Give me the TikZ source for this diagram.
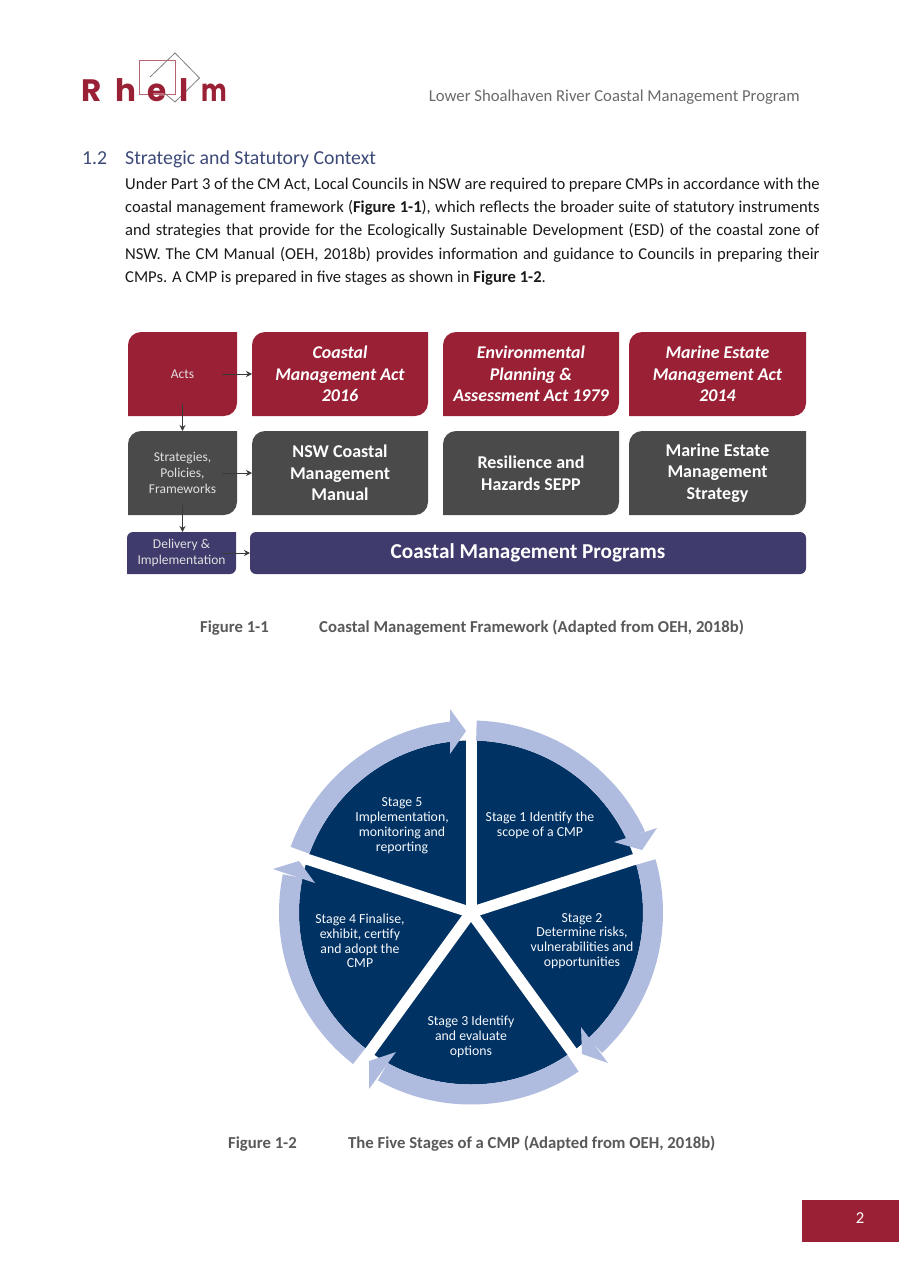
\documentclass[tikz,border=0pt]{standalone}
\usepackage{fontspec}
\setmainfont{Carlito}
\newfontfamily\logofont{Poppins}
\usetikzlibrary{arrows.meta}
\definecolor{rred}{HTML}{9A2135}
\definecolor{rgrey}{HTML}{4A4A4A}
\definecolor{rpurple}{HTML}{3F3B6C}
\definecolor{rnavy}{HTML}{003263}
\definecolor{rring}{HTML}{B0BCDF}
\definecolor{rtext}{HTML}{1A1A1A}
\definecolor{rhead}{HTML}{595959}
\definecolor{rarrow}{HTML}{3A3A3A}
\definecolor{rsec}{HTML}{3D4A78}
\newcommand{\dbox}[7]{%
  \fill[#6] (#2,#3+#7) .. controls (#2,#3+0.45*#7) and (#2+0.45*#7,#3) .. (#2+#7,#3) -- (#4,#3) -- (#4,#5-#7) .. controls (#4,#5-0.45*#7) and (#4-0.45*#7,#5) .. (#4-#7,#5) -- (#2,#5) -- cycle;
  \node[boxnode,minimum width=#4-#2,minimum height=#5-#3] (#1) at ({(#2+#4)/2},{(#3+#5)/2}) {};}
\newcommand{\bodyline}[3]{\node[bodytext] (#1) at (125,#2) {\makebox[694.5pt][s]{#3}};}
\newcommand{\ringseg}[2]{%
  \fill[rring] plot[domain=#1:#2,samples=50] ({471+192*cos(\x)},{912.5-192*sin(\x)}) -- plot[domain=#2:#1,samples=50] ({471+172*cos(\x)},{912.5-172*sin(\x)}) -- cycle;}
\tikzset{
  boxnode/.style={inner sep=0pt,outer sep=0pt,rectangle},
  bodytext/.style={anchor=base west,inner sep=0pt,font=\fontsize{16.6}{18}\selectfont,text=rtext},
  smalllab/.style={align=center,text=white!88!black,font=\fontsize{13.5}{16}\selectfont,inner sep=0pt},
  biglab/.style={align=center,text=white,font=\bfseries\fontsize{18}{21.6}\selectfont,inner sep=0pt},
  itlab/.style={align=center,text=white,font=\bfseries\itshape\fontsize{17.9}{21.6}\selectfont,inner sep=0pt},
  flow/.style={rarrow,line width=1pt,-{Stealth[length=6pt,width=6pt]}},
  caption/.style={anchor=base west,inner sep=0pt,text=rhead,font=\bfseries\fontsize{16.7}{18}\selectfont},
  stage/.style={align=center,text=white!90!rring,font=\fontsize{13.8}{14.8}\selectfont,inner sep=0pt},
  cutray/.style={white,line width=11pt},
  logoletter/.style={anchor=base west,inner sep=0pt,text=rred,font=\logofont\bfseries\fontsize{31}{31}\selectfont},
}
\begin{document}
\begin{tikzpicture}[x=1pt,y=-1pt]
\useasboundingbox (0,0) rectangle (899,1273);
\fill[white] (0,0) rectangle (899,1273);
% logo
\draw[rred!70!white,line width=0.8pt] (139.5,60) rectangle (175,94);
\draw[gray,line width=0.8pt] (150,77) -- (175,53) -- (199.5,78) -- (175,102) -- (163,92);
\node[logoletter] (logoR) at (81.5,102) {R};
\node[logoletter] (logoH) at (115,102) {h};
\node[logoletter] (logoE) at (147.5,102) {e};
\node[logoletter] (logoL) at (179,102) {l};
\node[logoletter] (logoM) at (201,102) {\scalebox{0.78}[1]{m}};
% header
\node[anchor=base east,inner sep=0pt,text=rhead!90!white,font=\fontsize{16.7}{18}\selectfont] (header) at (800,101.5) {Lower Shoalhaven River Coastal Management Program};
\node[anchor=base west,inner sep=0pt,text=rsec,font=\fontsize{19.8}{22}\selectfont] (secnum) at (82,165) {1.2};
\node[anchor=base west,inner sep=0pt,text=rsec,font=\fontsize{19.8}{22}\selectfont] (sectitle) at (125,165) {Strategic and Statutory Context};
% body
\bodyline{l1}{189.5}{Under Part 3 of the CM Act, Local Councils in NSW are required to prepare CMPs in accordance with the}
\bodyline{l2}{212.5}{coastal management framework (\textbf{Figure 1-1}), which reflects the broader suite of statutory instruments}
\bodyline{l3}{236}{and strategies that provide for the Ecologically Sustainable Development (ESD) of the coastal zone of}
\bodyline{l4}{259.5}{NSW. The CM Manual (OEH, 2018b) provides information and guidance to Councils in preparing their}
\node[bodytext] (l5) at (125,282.5) {CMPs. A CMP is prepared in five stages as shown in \textbf{Figure 1-2}.};
% framework
\dbox{acts}{128}{332}{237}{416}{rred}{13}
\dbox{cma}{252}{332}{428}{416}{rred}{13}
\dbox{epa}{443}{332}{619}{416}{rred}{13}
\dbox{mema}{629}{332}{806}{416}{rred}{13}
\dbox{strat}{128}{431}{237}{515}{rgrey}{13}
\dbox{nsw}{252}{431}{428}{515}{rgrey}{13}
\dbox{rh}{443}{431}{619}{515}{rgrey}{13}
\dbox{mes}{629}{431}{806}{515}{rgrey}{13}
\dbox{deliv}{127}{532}{236}{574}{rpurple}{6}
\fill[rpurple,rounded corners=6pt] (250,532) rectangle (806,574);
\node[boxnode,minimum width=556pt,minimum height=42pt] (cmp) at (528,553) {};
\node[smalllab] (actsT) at (acts) {Acts};
\node[itlab] (cmaT) at (cma) {Coastal\\Management Act\\2016};
\node[itlab] (epaT) at (epa) {Environmental\\Planning \&\\Assessment Act 1979};
\node[itlab] (memaT) at (mema) {Marine Estate\\Management Act\\2014};
\node[smalllab] (stratT) at (strat) {Strategies,\\Policies,\\Frameworks};
\node[biglab] (nswT) at (nsw) {NSW Coastal\\Management\\Manual};
\node[biglab] (rhT) at (rh) {Resilience and\\Hazards SEPP};
\node[biglab] (mesT) at (mes) {Marine Estate\\Management\\Strategy};
\node[smalllab] (delivT) at (deliv) {Delivery \&\\Implementation};
\node[text=white,font=\bfseries\fontsize{21.2}{24}\selectfont,inner sep=0pt] (cmpT) at (cmp) {Coastal Management Programs};
\coordinate (actsR) at (222,374);
\coordinate (stratR) at (222,473);
\coordinate (delivR) at (222,553);
\coordinate (actsB) at (182.5,404);
\coordinate (stratB) at (182.5,505);
\draw[flow] (actsR) -- (cma.west);
\draw[flow] (stratR) -- (nsw.west);
\draw[flow] (delivR) -- (cmp.west);
\draw[flow] (actsB) -- (strat.north);
\draw[flow] (stratB) -- (deliv.north -| stratB);
\node[caption] (cap1a) at (200,632) {Figure 1-1};
\node[caption] (cap1b) at (319,632) {Coastal Management Framework (Adapted from OEH, 2018b)};
% cycle
\fill[rnavy] (471,912.5) circle[radius=172];
\foreach \a in {90,18,-54,-126,162}
  \draw[cutray] (471,912.5) -- ({471+176*cos(\a)},{912.5-176*sin(\a)});
\ringseg{25}{88.3}
\ringseg{-47}{16.1}
\ringseg{-119}{-55.9}
\ringseg{-191.5}{-127.9}
\ringseg{96}{160}
\fill[rring] (642,850) -- (657,828) -- (614,842) -- cycle;
\fill[rring] (582,1054) -- (581,1027) -- (608,1063) -- cycle;
\fill[rring] (369,1061) -- (396,1052) -- (369,1089) -- cycle;
\fill[rring] (299,861) -- (315,883) -- (273,869) -- cycle;
\fill[rring] (466,731) -- (450,709) -- (450,754) -- cycle;
\node[stage] (s1) at (540,825.5) {Stage 1 Identify the\\scope of a CMP};
\node[stage] (s2) at (582,941) {Stage 2\\Determine risks,\\vulnerabilities and\\opportunities};
\node[stage] (s3) at (471,1037) {Stage 3 Identify\\and evaluate\\options};
\node[stage] (s4) at (360,941) {Stage 4 Finalise,\\exhibit, certify\\and adopt the\\CMP};
\node[stage] (s5) at (402,825.5) {Stage 5\\Implementation,\\monitoring and\\reporting};
\node[caption] (cap2a) at (228,1148) {Figure 1-2};
\node[caption] (cap2b) at (348,1148) {The Five Stages of a CMP (Adapted from OEH, 2018b)};
% page number
\fill[rred] (802,1200) rectangle (899,1242);
\node[text=white,inner sep=0pt,font=\fontsize{16.7}{18}\selectfont] (pagenum) at (860,1218) {2};
\end{tikzpicture}
\end{document}
